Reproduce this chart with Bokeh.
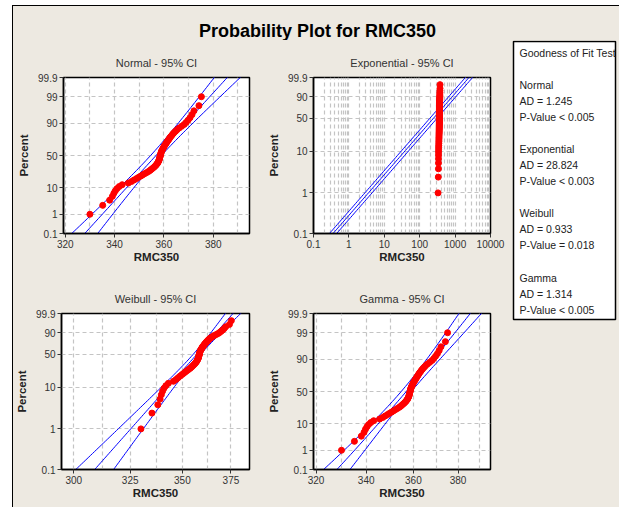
import math
from statistics import NormalDist
import numpy as np
from bokeh.plotting import figure
from bokeh.layouts import row, column
from bokeh.models import Range1d, FixedTicker, Spacer
from bokeh.core.properties import value
from bokeh.embed import file_html
from bokeh.resources import INLINE

# ---------------- data ----------------
rmc350 = [330.0, 335.2, 338.0, 339.1, 339.7, 340.3, 341.0, 341.9, 343.1, 345.6,
          346.9, 347.9, 348.9, 349.8, 350.7, 351.5, 352.3, 353.1, 353.9, 354.5,
          355.0, 355.5, 356.0, 356.4, 356.8, 357.1, 357.4, 357.6, 357.8, 358.0,
          358.1, 358.2, 358.3, 358.4, 358.5, 358.6, 358.7, 358.8, 358.9, 359.0,
          359.2, 359.4, 359.6, 359.8, 360.0, 360.2, 360.5, 360.8, 361.0, 361.3,
          361.6, 361.9, 362.2, 362.5, 362.9, 363.3, 363.7, 364.2, 364.8, 365.4,
          366.2, 367.2, 368.2, 369.0, 369.8, 370.6, 371.4, 372.2, 374.2, 375.2]

# fitted parameters
normal_mean = 356.8
normal_sd = 9.35
expo_mean = 357.0
weibull_shape = 45.0
weibull_scale = 360.3
gamma_mean = 356.9
gamma_sd = 9.3

pct_ticks_normal = [0.1, 1, 10, 50, 90, 99, 99.9]
pct_ticks_weibull = [0.1, 1, 10, 50, 90, 99.9]
normal_x_ticks = [320, 340, 360, 380]
normal_x_minor = [330, 350, 370, 390]
weibull_x_ticks = [300, 325, 350, 375]
weibull_x_minor = [312.5, 337.5, 362.5]
expo_x_ticks = [0.1, 1, 10, 100, 1000, 10000]
expo_x_labels = ["0.1", "1", "10", "100", "1000", "10000"]

gof_lines = ["Goodness of Fit Test", "",
             "Normal", "AD = 1.245", "P-Value < 0.005", "",
             "Exponential", "AD = 28.824", "P-Value < 0.003", "",
             "Weibull", "AD = 0.933", "P-Value = 0.018", "",
             "Gamma", "AD = 1.314", "P-Value < 0.005"]

# ---------------- styling ----------------
BG = "#EDE9E1"
GRID = "#C4C4C4"
BLUE = "#0000FF"
RED = "#FF0000"
FN = "Liberation Sans"
FB = "Liberation Sans"

ND = NormalDist()
n = len(rmc350)
x = np.array(rmc350)
ppos = [(i + 1 - 0.3) / (n + 0.4) for i in range(n)]
z_pts = np.array([ND.inv_cdf(p) for p in ppos])
w_pts = np.array([math.log(-math.log(1 - p)) for p in ppos])


def zq(pct):
    return ND.inv_cdf(pct / 100.0)


def wq(pct):
    return math.log(-math.log(1 - pct / 100.0))


def fmt(v):
    return ("%g" % v)


def make_fig(width, height, left, right, top, bottom, xr, yr, xtype, title):
    p = figure(width=width, height=height, x_range=xr, y_range=yr,
               x_axis_type=xtype, output_backend="svg", toolbar_location=None,
               min_border_left=left, min_border_right=right,
               min_border_top=top, min_border_bottom=bottom)
    p.background_fill_color = "white"
    p.border_fill_color = BG
    p.outline_line_color = "black"
    p.outline_line_width = 1.5
    p.title.text = title
    p.title.align = "center"
    p.title.text_font = FN
    p.title.text_font_size = "11px"
    p.title.text_font_style = "normal"
    p.title.text_color = "#333333"
    p.title.standoff = 18
    for ax in (p.xaxis[0], p.yaxis[0]):
        ax.major_label_text_font = FN
        ax.major_label_text_font_size = "10px"
        ax.major_label_text_color = "#333333"
        ax.axis_label_text_font = FB
        ax.axis_label_text_font_style = "bold"
        ax.axis_label_text_font_size = "11.5px"
        ax.axis_label_text_color = "#222222"
        ax.major_tick_out = 4
        ax.major_tick_in = 0
        ax.minor_tick_out = 0
        ax.minor_tick_in = 0
        ax.axis_line_color = "black"
        ax.axis_line_width = 1.5
        ax.major_tick_line_color = "#333333"
        ax.major_label_standoff = 2
        ax.axis_label_standoff = 0
    p.yaxis.axis_label_standoff = 5
    p.xaxis.axis_label = "RMC350"
    p.yaxis.axis_label = "Percent"
    for g in (p.xgrid[0], p.ygrid[0]):
        g.grid_line_color = GRID
        g.grid_line_dash = "4 3"
        g.grid_line_width = 1.2
    p.xgrid.minor_grid_line_color = GRID
    p.xgrid.minor_grid_line_dash = "4 3"
    p.xgrid.minor_grid_line_width = 1.2
    return p


def set_y_ticks(p, pcts, fn):
    ticks = [fn(v) for v in pcts]
    p.yaxis.ticker = FixedTicker(ticks=ticks)
    p.yaxis.major_label_overrides = {t: fmt(v) for t, v in zip(ticks, pcts)}


def set_x_ticks(p, ticks, minor, labels=None):
    p.xaxis.ticker = FixedTicker(ticks=ticks, minor_ticks=minor)
    labels = labels or [fmt(t) for t in ticks]
    p.xaxis.major_label_overrides = {float(t): l for t, l in zip(ticks, labels)}


zs = np.linspace(-3.4, 3.4, 69)
ws = np.linspace(-7.3, 2.3, 97)
c95 = 1.959964

# ---------------- Normal ----------------
f_norm = make_fig(249, 235, 50, 13, 37, 42,
                  Range1d(319.3, 394.7), Range1d(zq(0.1), zq(99.9)), "linear",
                  "Normal - 95% CI")
set_y_ticks(f_norm, pct_ticks_normal, zq)
set_x_ticks(f_norm, normal_x_ticks, normal_x_minor)
xc = normal_mean + zs * normal_sd
d = c95 * normal_sd * np.sqrt(1.0 / n + zs ** 2 / (2.0 * n))
for xx in (xc - d, xc, xc + d):
    f_norm.line(xx, zs, color=BLUE, line_width=1)
f_norm.scatter(x, z_pts, size=6, color=RED)

# ---------------- Exponential ----------------
f_exp = make_fig(243, 235, 51, 15, 37, 42,
                 Range1d(0.1, 10000), Range1d(wq(0.1), wq(99.9)), "log",
                 "Exponential - 95% CI")
set_y_ticks(f_exp, pct_ticks_weibull, wq)
exp_minor = [k * 10.0 ** e for e in range(-1, 4) for k in range(2, 10)]
set_x_ticks(f_exp, expo_x_ticks, exp_minor, expo_x_labels)
band = math.exp(c95 / math.sqrt(n))
for fct in (1.0 / band, 1.0, band):
    f_exp.line(expo_mean * fct * np.exp(ws), ws, color=BLUE, line_width=1)
f_exp.scatter(x, w_pts, size=6, color=RED)

# ---------------- Weibull ----------------
f_weib = make_fig(249, 232, 47, 13, 38, 38,
                  Range1d(294.8, 385.0), Range1d(wq(0.1), wq(99.9)), "log",
                  "Weibull - 95% CI")
set_y_ticks(f_weib, pct_ticks_weibull, wq)
set_x_ticks(f_weib, weibull_x_ticks, weibull_x_minor)
b = 1.0 / weibull_shape
lx = math.log(weibull_scale) + b * ws
sd_l = b / math.sqrt(n) * np.sqrt(1.1087 + 0.5140 * ws + 0.6079 * ws ** 2)
for xx in (lx - c95 * sd_l, lx, lx + c95 * sd_l):
    f_weib.line(np.exp(xx), ws, color=BLUE, line_width=1)
f_weib.scatter(x, w_pts, size=6, color=RED)

# ---------------- Gamma ----------------
f_gam = make_fig(243, 232, 51, 15, 38, 38,
                 Range1d(319.0, 395.2), Range1d(zq(0.1), zq(99.9)), "log",
                 "Gamma - 95% CI")
set_y_ticks(f_gam, pct_ticks_normal, zq)
set_x_ticks(f_gam, normal_x_ticks, normal_x_minor)
gc = gamma_mean + zs * gamma_sd
gd = c95 * gamma_sd * np.sqrt(1.0 / n + zs ** 2 / (2.0 * n))
for xx in (gc - gd, gc, gc + gd):
    f_gam.line(xx, zs, color=BLUE, line_width=1)
f_gam.scatter(x, z_pts, size=6, color=RED)

# ---------------- header (main title) ----------------
header = figure(width=606, height=34, x_range=Range1d(0, 606), y_range=Range1d(34, 0),
                min_border=0, output_backend="svg", toolbar_location=None,
                x_axis_location=None, y_axis_location=None)
header.grid.visible = False
header.outline_line_color = None
header.background_fill_color = BG
header.border_fill_color = BG
header.text(x=[304], y=[24.5], text=["Probability Plot for RMC350"],
            text_font=value(FB), text_font_style="bold", text_font_size="18px",
            text_align="center", text_baseline="middle", text_color="black")

# ---------------- goodness of fit box ----------------
f_box = figure(width=114, height=467, x_range=Range1d(0, 114), y_range=Range1d(467, 0),
               min_border=0, output_backend="svg", toolbar_location=None,
               x_axis_location=None, y_axis_location=None)
f_box.grid.visible = False
f_box.outline_line_color = None
f_box.background_fill_color = BG
f_box.border_fill_color = BG
f_box.quad(left=[8], right=[110], top=[1], bottom=[279], fill_color="white",
           line_color="black", line_width=1.5)
ys = [12.3 + 16.05 * k for k in range(len(gof_lines))]
f_box.text(x=[14] * len(gof_lines), y=ys, text=gof_lines, text_font=value(FN),
           text_font_size="10.5px", text_baseline="middle", text_align="left",
           text_color="#222222")

left = column(row(f_norm, f_exp), row(f_weib, f_gam))
content = column(header, row(left, f_box),
                 styles={"background-color": BG, "border-left": "1px solid #000",
                         "border-top": "1px solid #000"})
layout = column(Spacer(width=10, height=5), row(Spacer(width=12, height=10), content))

open("out.html", "w").write(file_html(layout, INLINE))
